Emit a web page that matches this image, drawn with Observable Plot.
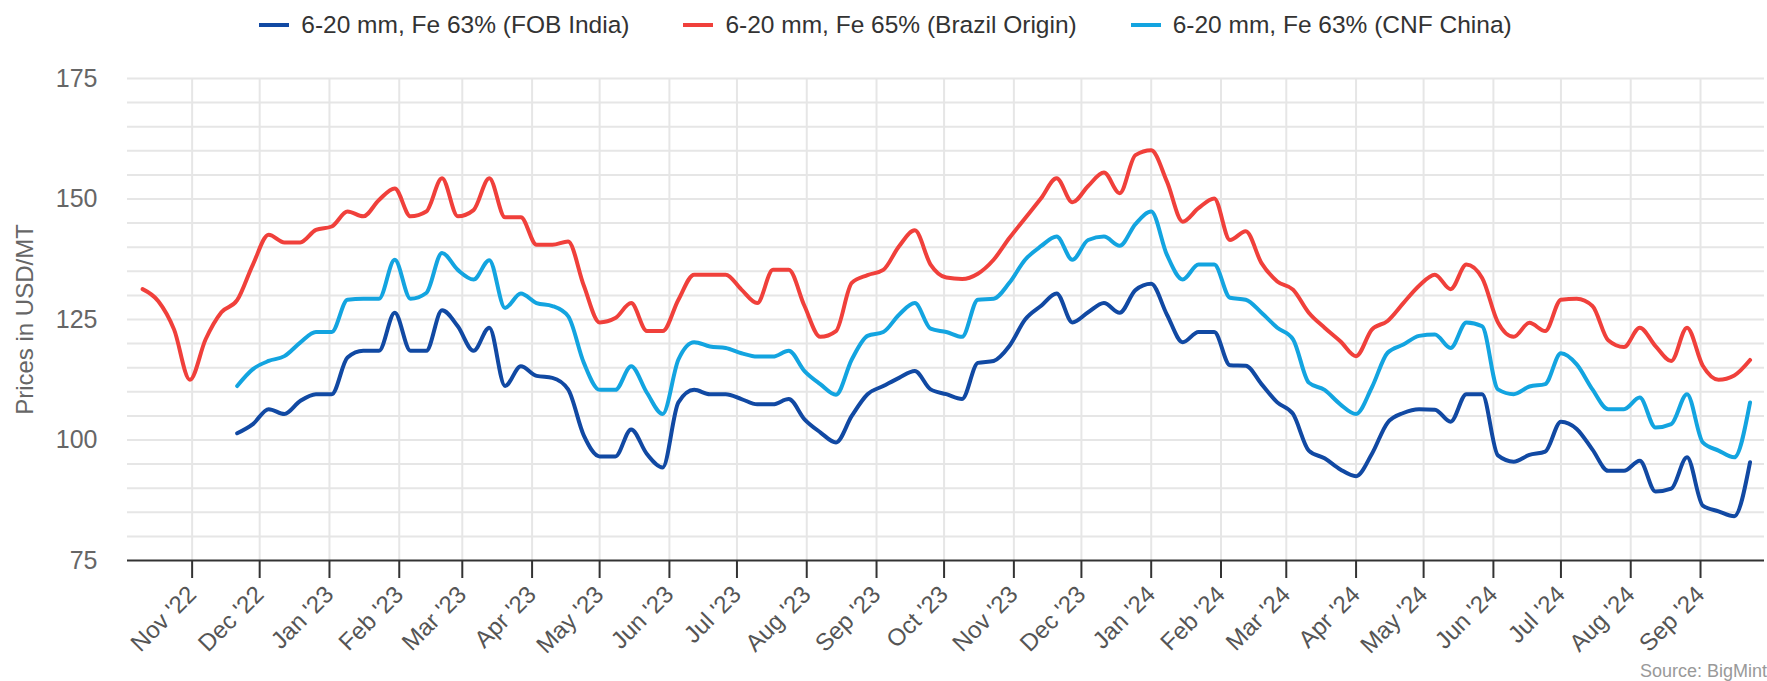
<!DOCTYPE html>
<html><head><meta charset="utf-8">
<script src="https://cdn.jsdelivr.net/npm/d3@7"></script>
<script src="https://cdn.jsdelivr.net/npm/@observablehq/plot@0.6"></script>
<style>
html,body{margin:0;padding:0;background:#fff;overflow:hidden;width:1767px;height:681px;font-family:"Liberation Sans",Arial,sans-serif;}
#legend{height:50px;display:flex;justify-content:center;align-items:center;gap:54px;font-size:24.5px;color:#333;padding-left:4px;}
.item{display:flex;align-items:center;white-space:nowrap;}
.sw{width:30px;height:4px;margin-right:12px;}
#chart{height:631px;}
#source{position:absolute;right:0;top:662px;font-size:18px;color:#999;line-height:1;}
</style></head>
<body>
<div id="legend"></div>
<div id="chart"></div>
<div id="source">Source: BigMint</div>
<script>
// Series names and colours
const seriesNames = ["6-20 mm, Fe 63% (FOB India)", "6-20 mm, Fe 65% (Brazil Origin)", "6-20 mm, Fe 63% (CNF China)"];
const seriesColors = ["#1149a3", "#f0403b", "#13a4e0"];

// Weekly observations (Mondays) from 10 Oct 2022 to 23 Sep 2024
const weeks = d3.utcMonday.range(new Date(Date.UTC(2022, 9, 10)), new Date(Date.UTC(2024, 8, 24)));

// Brazil Origin: all 103 weeks
const brazil = [
  131.3, 128.8, 122.9, 112.5, 120.9, 126.5, 129.0, 136.4, 142.6, 141.0,
  141.0, 143.6, 144.3, 147.4, 146.4, 149.8, 152.2, 146.4, 147.4, 154.3,
  146.4, 147.7, 154.3, 146.2, 146.2, 140.5, 140.5, 141.2, 132.0, 124.4,
  125.3, 128.4, 122.6, 122.6, 129.1, 134.3, 134.3, 134.3, 131.2, 128.4,
  135.3, 135.3, 127.8, 121.4, 122.6, 132.6, 134.2, 135.3, 140.2, 143.5,
  136.4, 133.7, 133.4, 134.5, 137.4, 141.9, 146.0, 150.1, 154.3, 149.3,
  152.7, 155.5, 151.2, 159.1, 160.1, 153.6, 145.3, 148.1, 150.1, 141.5,
  143.3, 136.7, 132.9, 131.2, 126.4, 123.3, 120.5, 117.4, 122.9, 124.7,
  128.4, 132.0, 134.3, 131.3, 136.4, 133.6, 124.4, 121.4, 124.3, 122.6,
  129.1, 129.3, 127.8, 120.7, 119.3, 123.3, 119.5, 116.4, 123.3, 115.4,
  112.5, 113.4, 116.6
];

// CNF China: from week 7 (21 Nov 2022)
const china = [
  111.2, 114.7, 116.4, 117.4, 120.2, 122.4, 122.4, 129.1, 129.3, 129.3,
  137.4, 129.3, 130.5, 138.8, 135.3, 133.3, 137.3, 127.4, 130.4, 128.4,
  127.8, 125.7, 116.0, 110.4, 110.4, 115.3, 109.8, 105.4, 116.7, 120.3,
  119.4, 119.1, 118.0, 117.3, 117.3, 118.5, 114.3, 111.6, 109.4, 116.7,
  121.6, 122.4, 126.0, 128.4, 123.1, 122.4, 121.4, 129.1, 129.3, 132.6,
  137.4, 140.2, 142.2, 137.4, 141.5, 142.2, 140.3, 144.8, 147.4, 138.4,
  133.3, 136.4, 136.4, 129.5, 129.1, 126.4, 123.3, 120.9, 111.9, 110.4,
  107.4, 105.4, 110.9, 118.1, 119.8, 121.6, 121.9, 119.1, 124.4, 123.6,
  110.5, 109.5, 111.1, 111.6, 118.0, 115.7, 110.5, 106.4, 106.4, 108.8,
  102.6, 103.3, 109.5, 99.5, 97.8, 96.4, 107.8
];

// FOB India: from week 7 (21 Nov 2022)
const india = [
  101.4, 103.3, 106.4, 105.4, 108.1, 109.5, 109.5, 117.1, 118.5, 118.5,
  126.4, 118.5, 118.5, 126.9, 123.6, 118.5, 123.3, 111.2, 115.3, 113.3,
  112.9, 110.5, 100.9, 96.6, 96.6, 102.2, 97.1, 94.3, 107.8, 110.4,
  109.5, 109.5, 108.5, 107.4, 107.4, 108.5, 104.3, 101.6, 99.5, 105.0,
  109.5, 111.2, 112.9, 114.3, 110.5, 109.5, 108.5, 116.0, 116.4, 119.5,
  125.0, 127.8, 130.4, 124.4, 126.5, 128.4, 126.4, 131.1, 132.4, 126.0,
  120.3, 122.4, 122.4, 115.5, 115.4, 111.6, 107.8, 105.4, 97.8, 96.2,
  93.9, 92.5, 97.1, 103.6, 105.6, 106.4, 106.3, 103.8, 109.5, 109.5,
  96.8, 95.5, 96.9, 97.6, 103.8, 102.3, 98.0, 93.6, 93.6, 95.7,
  89.3, 89.9, 96.4, 86.4, 85.2, 84.2, 95.4
];

const yTicks = [75, 100, 125, 150, 175];
const monthTicks = d3.utcMonth.range(new Date(Date.UTC(2022, 10, 1)), new Date(Date.UTC(2024, 8, 2)));
const xDomain = [new Date(Date.UTC(2022, 9, 3, 7)), new Date(Date.UTC(2024, 8, 29, 10))];

const rows = [];
brazil.forEach((v, i) => rows.push({date: weeks[i], value: v, series: seriesNames[1]}));
const off = weeks.length - china.length;
china.forEach((v, i) => rows.push({date: weeks[i + off], value: v, series: seriesNames[2]}));
india.forEach((v, i) => rows.push({date: weeks[i + off], value: v, series: seriesNames[0]}));

// legend
const legend = document.getElementById("legend");
seriesNames.forEach((n, i) => {
  const it = document.createElement("div"); it.className = "item";
  const sw = document.createElement("span"); sw.className = "sw"; sw.style.background = seriesColors[i];
  const tx = document.createElement("span"); tx.textContent = n;
  it.appendChild(sw); it.appendChild(tx); legend.appendChild(it);
});

const chart = Plot.plot({
  width: 1767,
  height: 631,
  marginTop: 28,
  marginBottom: 121,
  marginLeft: 127,
  marginRight: 3,
  style: {fontFamily: '"Liberation Sans", Arial, sans-serif', background: "#fff", overflow: "visible"},
  x: {type: "utc", domain: xDomain},
  y: {domain: [75, 175]},
  color: {domain: seriesNames, range: seriesColors},
  marks: [
    Plot.gridY(d3.range(80, 176, 5), {stroke: "#e6e6e6", strokeOpacity: 1, strokeWidth: 2}),
    Plot.gridX(monthTicks, {stroke: "#e6e6e6", strokeOpacity: 1, strokeWidth: 2}),
    Plot.axisY(yTicks, {tickSize: 0, tickPadding: 30, fontSize: 25, fill: "#666",
      label: "Prices in USD/MT", labelAnchor: "center", labelArrow: "none", labelOffset: 112}),
    Plot.axisX(monthTicks, {tickFormat: d3.utcFormat("%b '%y"), tickRotate: -45, tickSize: 18, tickPadding: 12,
      fontSize: 24, fill: "#555", stroke: "#333", strokeWidth: 2, label: null}),
    Plot.ruleY([75], {stroke: "#333", strokeWidth: 2}),
    Plot.line(rows, {x: "date", y: "value", z: "series", stroke: "series", strokeWidth: 4, curve: "monotone-x"})
  ]
});
// y-axis title size
chart.querySelectorAll("g[aria-label='y-axis label'] text").forEach(t => t.setAttribute("font-size", 24));
document.getElementById("chart").appendChild(chart);
</script>
</body></html>
